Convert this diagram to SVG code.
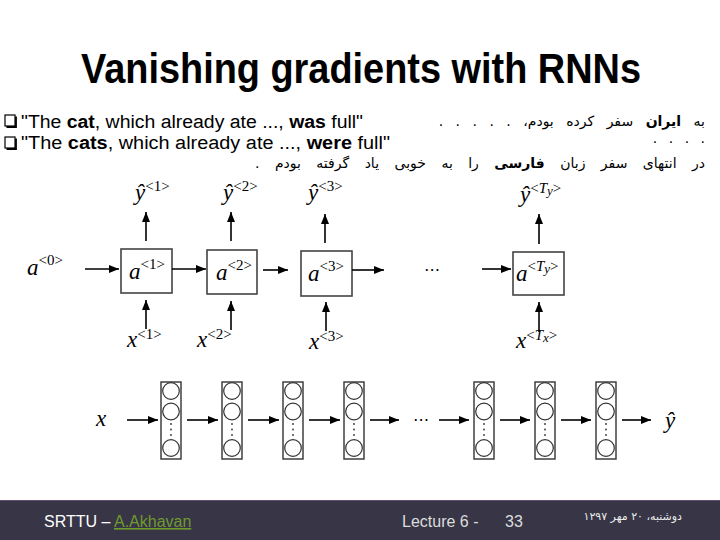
<svg xmlns="http://www.w3.org/2000/svg" width="720" height="540" viewBox="0 0 720 540">
<defs>
<marker id="ah" markerUnits="userSpaceOnUse" markerWidth="10" markerHeight="8" refX="10" refY="4" orient="auto">
<path d="M0,0 L10,4 L0,8 z" fill="#000"/>
</marker>
<style>
.title{font-family:"Liberation Sans",Arial,sans-serif;font-weight:bold;font-size:42px;fill:#000}
.bul{font-family:"Liberation Sans",Arial,sans-serif;font-size:18px;fill:#000}
.fa{font-family:"DejaVu Sans","Noto Sans",sans-serif;font-size:14px;fill:#000}
.m{font-family:"Liberation Serif","Times New Roman",serif;font-style:italic;font-size:23px;fill:#000}
.s{font-family:"Liberation Serif","Times New Roman",serif;font-style:normal;font-size:15px}
.si{font-style:italic}
.box{fill:#fff;stroke:#444;stroke-width:1.6}
.col{fill:#fff;stroke:#333;stroke-width:1.4}
.cir{fill:#fff;stroke:#333;stroke-width:1.2}
.dot{fill:#333}
.ar{stroke:#000;stroke-width:1.6;fill:none;marker-end:url(#ah)}
.cb{fill:#fff;stroke:#000;stroke-width:1.2}
.ft{font-family:"Liberation Sans",Arial,sans-serif;font-size:16px}
</style>
</defs>
<rect width="720" height="540" fill="#fff"/>

<text class="title" x="361" y="83" text-anchor="middle" textLength="560" lengthAdjust="spacingAndGlyphs">Vanishing gradients with RNNs</text>

<g id="bullets">
<rect class="cb" x="5" y="115" width="10" height="11"/>
<path d="M16,116.5 V127 H6.5" stroke="#000" stroke-width="1.8" fill="none"/>
<text class="bul" x="21" y="128" textLength="342" lengthAdjust="spacingAndGlyphs">"The <tspan font-weight="bold">cat</tspan>, which already ate ..., <tspan font-weight="bold">was</tspan> full"</text>
<rect class="cb" x="5" y="137" width="10" height="11"/>
<path d="M16,138.5 V149 H6.5" stroke="#000" stroke-width="1.8" fill="none"/>
<text class="bul" x="21" y="149" textLength="369" lengthAdjust="spacingAndGlyphs">"The <tspan font-weight="bold">cats</tspan>, which already ate ..., <tspan font-weight="bold">were</tspan> full"</text>
</g>

<g id="persian">
<text class="fa" x="705" y="126" direction="rtl" text-anchor="start" word-spacing="8">به <tspan font-weight="bold">ایران</tspan> سفر کرده بودم، . . . . .</text>
<text class="fa" x="705" y="143" text-anchor="end" word-spacing="7">. . . .</text>
<text class="fa" x="705" y="168" direction="rtl" text-anchor="start" word-spacing="11">در انتهای سفر زبان <tspan font-weight="bold">فارسی</tspan> را به خوبی یاد گرفته بودم .</text>
</g>

<g id="rnn-nodes">
<g id="a0"><text class="m" x="27" y="275">a<tspan class="s" dy="-10">&lt;0&gt;</tspan></text></g>
<g id="cell1"><rect class="box" x="121" y="249" width="51" height="44"/><text class="m" x="129" y="279">a<tspan class="s" dy="-10">&lt;1&gt;</tspan></text></g>
<g id="cell2"><rect class="box" x="207" y="250" width="50" height="44"/><text class="m" x="216" y="280">a<tspan class="s" dy="-10">&lt;2&gt;</tspan></text></g>
<g id="cell3"><rect class="box" x="301" y="251" width="51" height="45"/><text class="m" x="308" y="281">a<tspan class="s" dy="-10">&lt;3&gt;</tspan></text></g>
<g id="cellTy"><rect class="box" x="513" y="252" width="51" height="43"/><text class="m" x="516" y="281">a<tspan class="s" dy="-10">&lt;<tspan class="si">T</tspan><tspan class="si" font-size="13" dy="2">y</tspan><tspan dy="-2">&gt;</tspan></tspan></text></g>
<g id="dots-top"><text x="432" y="275" text-anchor="middle" font-family="DejaVu Sans,sans-serif" font-size="16">⋯</text></g>
<g id="y1"><text class="m" x="135" y="200">ŷ<tspan class="s" dy="-9">&lt;1&gt;</tspan></text></g>
<g id="y2"><text class="m" x="223" y="200">ŷ<tspan class="s" dy="-9">&lt;2&gt;</tspan></text></g>
<g id="y3"><text class="m" x="308" y="200">ŷ<tspan class="s" dy="-9">&lt;3&gt;</tspan></text></g>
<g id="yTy"><text class="m" x="520" y="202">ŷ<tspan class="s" dy="-9">&lt;<tspan class="si">T</tspan><tspan class="si" font-size="13" dy="2">y</tspan><tspan dy="-2">&gt;</tspan></tspan></text></g>
<g id="x1"><text class="m" x="127" y="347">x<tspan class="s" dy="-8">&lt;1&gt;</tspan></text></g>
<g id="x2"><text class="m" x="197" y="347">x<tspan class="s" dy="-8">&lt;2&gt;</tspan></text></g>
<g id="x3"><text class="m" x="309" y="349">x<tspan class="s" dy="-8">&lt;3&gt;</tspan></text></g>
<g id="xTx"><text class="m" x="516" y="348">x<tspan class="s" dy="-8">&lt;<tspan class="si">T</tspan><tspan class="si" font-size="13" dy="2">x</tspan><tspan dy="-2">&gt;</tspan></tspan></text></g>
</g>

<g id="deep-nodes">
<g id="lx"><text class="m" x="96" y="426">x</text></g>
<g id="l1"><rect class="col" x="161" y="382" width="20" height="77"/><circle class="cir" cx="171" cy="391" r="8.3"/><circle class="cir" cx="171" cy="411.5" r="8.3"/><circle class="dot" cx="171" cy="424" r="0.9"/><circle class="dot" cx="171" cy="429.5" r="0.9"/><circle class="dot" cx="171" cy="435" r="0.9"/><circle class="cir" cx="171" cy="448" r="8.3"/></g>
<g id="l2"><rect class="col" x="222" y="382" width="20" height="77"/><circle class="cir" cx="232" cy="391" r="8.3"/><circle class="cir" cx="232" cy="411.5" r="8.3"/><circle class="dot" cx="232" cy="424" r="0.9"/><circle class="dot" cx="232" cy="429.5" r="0.9"/><circle class="dot" cx="232" cy="435" r="0.9"/><circle class="cir" cx="232" cy="448" r="8.3"/></g>
<g id="l3"><rect class="col" x="283" y="382" width="20" height="77"/><circle class="cir" cx="293" cy="391" r="8.3"/><circle class="cir" cx="293" cy="411.5" r="8.3"/><circle class="dot" cx="293" cy="424" r="0.9"/><circle class="dot" cx="293" cy="429.5" r="0.9"/><circle class="dot" cx="293" cy="435" r="0.9"/><circle class="cir" cx="293" cy="448" r="8.3"/></g>
<g id="l4"><rect class="col" x="344" y="382" width="20" height="77"/><circle class="cir" cx="354" cy="391" r="8.3"/><circle class="cir" cx="354" cy="411.5" r="8.3"/><circle class="dot" cx="354" cy="424" r="0.9"/><circle class="dot" cx="354" cy="429.5" r="0.9"/><circle class="dot" cx="354" cy="435" r="0.9"/><circle class="cir" cx="354" cy="448" r="8.3"/></g>
<g id="ldots"><text x="421" y="425" text-anchor="middle" font-family="DejaVu Sans,sans-serif" font-size="16">⋯</text></g>
<g id="l5"><rect class="col" x="474" y="382" width="20" height="77"/><circle class="cir" cx="484" cy="391" r="8.3"/><circle class="cir" cx="484" cy="411.5" r="8.3"/><circle class="dot" cx="484" cy="424" r="0.9"/><circle class="dot" cx="484" cy="429.5" r="0.9"/><circle class="dot" cx="484" cy="435" r="0.9"/><circle class="cir" cx="484" cy="448" r="8.3"/></g>
<g id="l6"><rect class="col" x="535" y="382" width="20" height="77"/><circle class="cir" cx="545" cy="391" r="8.3"/><circle class="cir" cx="545" cy="411.5" r="8.3"/><circle class="dot" cx="545" cy="424" r="0.9"/><circle class="dot" cx="545" cy="429.5" r="0.9"/><circle class="dot" cx="545" cy="435" r="0.9"/><circle class="cir" cx="545" cy="448" r="8.3"/></g>
<g id="l7"><rect class="col" x="596" y="382" width="20" height="77"/><circle class="cir" cx="606" cy="391" r="8.3"/><circle class="cir" cx="606" cy="411.5" r="8.3"/><circle class="dot" cx="606" cy="424" r="0.9"/><circle class="dot" cx="606" cy="429.5" r="0.9"/><circle class="dot" cx="606" cy="435" r="0.9"/><circle class="cir" cx="606" cy="448" r="8.3"/></g>
<g id="ly"><text class="m" x="665" y="428">ŷ</text></g>
</g>

<g id="connectors">
<line class="ar" x1="85" y1="269" x2="119" y2="269"/>
<line class="ar" x1="172" y1="269" x2="206" y2="269"/>
<line class="ar" x1="263" y1="270" x2="288" y2="270"/>
<line class="ar" x1="352" y1="270" x2="384" y2="270"/>
<line class="ar" x1="482" y1="269" x2="511" y2="269"/>
<line class="ar" x1="146" y1="241" x2="146" y2="212"/>
<line class="ar" x1="231" y1="241" x2="231" y2="212"/>
<line class="ar" x1="325" y1="243" x2="325" y2="214"/>
<line class="ar" x1="539" y1="244" x2="539" y2="214"/>
<line class="ar" x1="146" y1="329" x2="146" y2="300"/>
<line class="ar" x1="231" y1="330" x2="231" y2="301"/>
<line class="ar" x1="326" y1="331" x2="326" y2="302"/>
<line class="ar" x1="539" y1="332" x2="539" y2="302"/>
<line class="ar" x1="127" y1="420" x2="158" y2="420"/>
<line class="ar" x1="187" y1="420" x2="218" y2="420"/>
<line class="ar" x1="248" y1="420" x2="279" y2="420"/>
<line class="ar" x1="309" y1="420" x2="340" y2="420"/>
<line class="ar" x1="370" y1="420" x2="399" y2="420"/>
<line class="ar" x1="439" y1="420" x2="469" y2="420"/>
<line class="ar" x1="500" y1="420" x2="530" y2="420"/>
<line class="ar" x1="561" y1="420" x2="591" y2="420"/>
<line class="ar" x1="622" y1="420" x2="651" y2="420"/>
</g>

<g id="footer">
<rect x="0" y="500" width="720" height="40" fill="#373546"/>
<line x1="0" y1="500.5" x2="720" y2="500.5" stroke="#5e5070" stroke-width="1"/>
<text class="ft" x="44" y="527" fill="#fff">SRTTU – <tspan fill="#6f9a2e" text-decoration="underline">A.Akhavan</tspan></text>
<text class="ft" x="402" y="527" fill="#ddd">Lecture 6 -</text>
<text class="ft" x="505" y="527" fill="#ddd">33</text>
<text x="682" y="520" direction="rtl" text-anchor="start" font-family="DejaVu Sans,sans-serif" font-size="11" fill="#eee">دوشنبه، ۲۰ مهر ۱۲۹۷</text>
</g>
</svg>
